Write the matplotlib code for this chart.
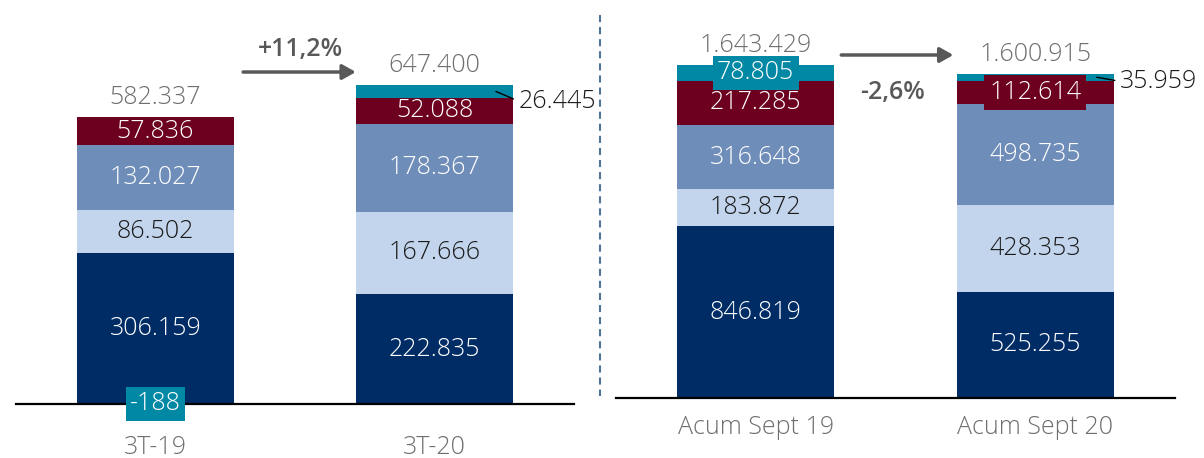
import matplotlib
matplotlib.use("Agg")
import matplotlib.pyplot as plt
from matplotlib.lines import Line2D

plt.rcParams['font.family'] = ['Open Sans', 'DejaVu Sans']

# data
cats_q = ['3T-19', '3T-20']
cats_acum = ['Acum Sept 19', 'Acum Sept 20']

q_navy = [306159, 222835]
q_light = [86502, 167666]
q_mid = [132027, 178367]
q_red = [57836, 52088]
q_teal = [-188, 26445]
q_total = [582337, 647400]

acum_navy = [846819, 525255]
acum_light = [183872, 428353]
acum_mid = [316648, 498735]
acum_red = [217285, 112614]
acum_teal = [78805, 35959]
acum_total = [1643429, 1600915]

q_change = '+11,2%'
acum_change = '-2,6%'

NAVY = '#002C66'
LIGHT = '#C2D5ED'
MID = '#6F8DB9'
RED = '#6C001E'
TEAL = '#0088A5'
GREY = '#6E6E6E'
DARKGREY = '#595959'
FS = 18


def fmt(v):
    return f"{v:,}".replace(',', '.')


W, H = 1204, 458
fig = plt.figure(figsize=(W / 100, H / 100), dpi=100)

# left panel: baseline at y=404px, 2029 units per px
ax1 = fig.add_axes([16 / W, (H - 404) / H, 558 / W, 404 / H])
ax1.set_ylim(0, 404 * 2029)
# right panel: baseline at y=398px, 4935 units per px
ax2 = fig.add_axes([616 / W, (H - 398) / H, 559 / W, 398 / H])
ax2.set_ylim(0, 398 * 4935)


def draw_panel(ax, cats, series, totals, teal_mode, red_box, label_off):
    colors = [NAVY, LIGHT, MID, RED, TEAL]
    txtcol = ['white', '#1A1A1A', 'white', 'white', 'white']
    x = [0, 1]
    bottom = [0, 0]
    for s, c, tc, k in zip(series, colors, txtcol, range(5)):
        b = [bottom[i] if s[i] >= 0 else 0 for i in range(2)]
        ax.bar(x, s, bottom=b, width=0.56, color=c, edgecolor='none', zorder=2)
        for i in range(2):
            yc = b[i] + s[i] / 2
            if k < 4:
                bbox = None
                if k == 3 and red_box[i]:
                    bbox = dict(boxstyle='square,pad=0.2', fc=RED, ec='none')
                ax.text(x[i], yc, fmt(s[i]), ha='center', va='center',
                        color=tc, fontsize=FS, fontweight='light', bbox=bbox, zorder=4)
            else:
                if teal_mode[i] == 'box':
                    yb = 0 if s[i] < 0 else yc
                    ax.text(x[i], yb, fmt(s[i]), ha='center', va='center',
                            color='white', fontsize=FS, fontweight='light', zorder=5,
                            bbox=dict(boxstyle='square,pad=0.18', fc=TEAL, ec='none'))
                else:
                    ax.annotate(fmt(s[i]), xy=(x[i] + 0.22, yc),
                                xytext=label_off, textcoords='offset points',
                                ha='left', va='center', color='#1A1A1A',
                                fontsize=FS, fontweight='light', zorder=5,
                                annotation_clip=False,
                                arrowprops=dict(arrowstyle='-', color='black', lw=1,
                                                relpos=(0, 0.5), shrinkA=2, shrinkB=0))
            if s[i] >= 0:
                bottom[i] += s[i]
    for i in range(2):
        ax.annotate(fmt(totals[i]), xy=(x[i], totals[i]), xytext=(0, 14),
                    textcoords='offset points', ha='center', va='center',
                    color=GREY, fontsize=FS, fontweight='light')
    ax.set_xlim(-0.5, 1.5)
    for sp in ['top', 'right', 'left']:
        ax.spines[sp].set_visible(False)
    ax.spines['bottom'].set_color('black')
    ax.spines['bottom'].set_linewidth(1.6)
    ax.spines['bottom'].set_zorder(3)
    ax.set_yticks([])
    ax.set_xticks([])
    ax.set_facecolor('none')


draw_panel(ax1, cats_q, [q_navy, q_light, q_mid, q_red, q_teal], q_total,
           ['box', 'leader'], [False, False], (16.5, -7))
draw_panel(ax2, cats_acum, [acum_navy, acum_light, acum_mid, acum_red, acum_teal], acum_total,
           ['box', 'leader'], [False, True], (17, -3))

# category labels
for i, c in enumerate(cats_q):
    ax1.annotate(c, xy=(i, 0), xytext=(0, -31.5), textcoords='offset points',
                 ha='center', va='center', color=GREY, fontsize=FS,
                 fontweight='light', annotation_clip=False)
for i, c in enumerate(cats_acum):
    ax2.annotate(c, xy=(i, 0), xytext=(0, -21), textcoords='offset points',
                 ha='center', va='center', color=GREY, fontsize=FS,
                 fontweight='light', annotation_clip=False)

# growth arrows
arrow = dict(arrowstyle='-|>,head_length=0.8,head_width=0.45', lw=2.5,
             color=DARKGREY, shrinkA=0, shrinkB=0)
ax1.annotate('', xy=(0.718, 673600), xytext=(0.314, 673600), arrowprops=arrow,
             annotation_clip=False)
ax1.text(0.518, 720000, q_change, ha='center', va='center', color=DARKGREY,
         fontsize=18, fontweight='semibold')
ax2.annotate('', xy=(0.707, 1692700), xytext=(0.306, 1692700), arrowprops=arrow,
             annotation_clip=False)
ax2.text(0.488, 1505200, acum_change, ha='center', va='center', color=DARKGREY,
         fontsize=18, fontweight='semibold')

# dashed separator
fig.add_artist(Line2D([600 / W, 600 / W], [(H - 15) / H, (H - 396) / H],
                      transform=fig.transFigure, color='#4F7399', lw=1.5,
                      linestyle=(0, (3.4, 2.4))))

fig.savefig('out.png', dpi=100)
